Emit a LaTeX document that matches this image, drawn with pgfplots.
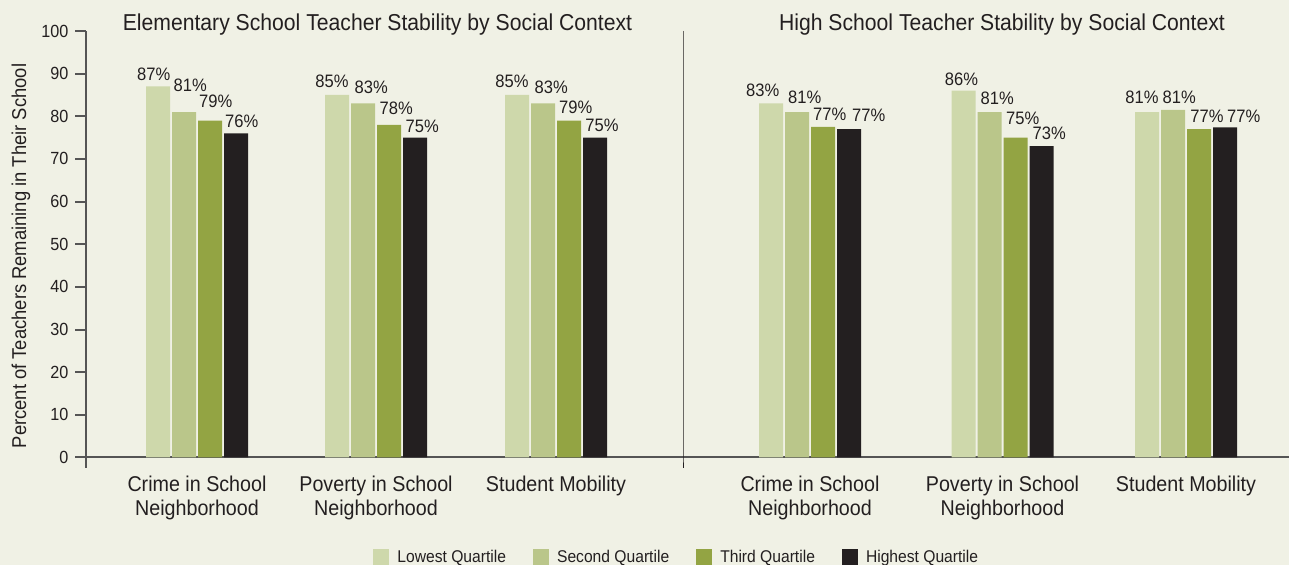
\documentclass[border=0pt]{standalone}
\usepackage{pgfplots}
\usepackage{pgfplotstable}
\pgfplotsset{compat=1.18}
\usepackage{fontspec}
\setmainfont{Liberation Sans}[FakeStretch=0.92]
\definecolor{bg}{HTML}{F0F1E5}
\definecolor{qa}{HTML}{CED8AB}
\definecolor{qb}{HTML}{BAC68A}
\definecolor{qc}{HTML}{93A443}
\definecolor{qd}{HTML}{231F20}
\definecolor{axgrey}{HTML}{555555}
\definecolor{txt}{HTML}{231F20}

% x = pixel position of group centre, y = value, lab = printed label,
% dx, dy = label offset (pt) from the group centre at bar-top height
\pgfplotstableread{
x y lab dx dy
197 87 87 -30.15 2.85
376 85 85 -30.5 3.85
556 85 85 -30.5 3.85
810 83 83 -32.15 3.5
1002.5 86 86 -29 2.5
1186 81 81 -30.5 4.35
}\tA
\pgfplotstableread{
x y lab dx dy
197 81 81 -11.85 10.35
376 83 83 -10.85 5
556 83 83 -10.85 5
810 81 81 -11.15 4.15
1002.5 81 81 -11.15 3.65
1186 81.5 81 -11.85 3.35
}\tB
\pgfplotstableread{
x y lab dx dy
197 79 79 0.85 6.5
376 78 78 1.65 5
556 79 79 1.35 3.35
810 77.5 77 1.35 3
1002.5 75 75 1.65 6.65
1186 77 77 2 3.35
}\tC
\pgfplotstableread{
x y lab dx dy
197 76 76 13.85 2.85
376 75 75 14.65 2.65
556 75 75 14.5 3
810 77 77 20.85 4
1002.5 73 73 14.85 3.35
1186 77.4 77 20.35 2.5
}\tD

\pgfplotsset{
  mybar/.style={ybar, bar width=24, draw=none, fill=#1,
    legend image code/.code={\fill[#1] (0pt,-4pt) rectangle (8pt,4pt);}},
}

\begin{document}
\begin{tikzpicture}
\fill[bg] (-43pt,-53.75pt) rectangle (601.5pt,228.75pt);
\begin{axis}[
  at={(0pt,0pt)}, anchor=south west,
  scale only axis, width=601.5pt, height=213.25pt,
  xmin=86, xmax=1289, ymin=0, ymax=100,
  clip=false,
  axis x line*=bottom, axis y line*=left,
  axis line style={-, axgrey, line width=1pt},
  x axis line style={-}, y axis line style={-},
  tick align=outside, major tick length=5.3pt,
  ytick={0,10,...,100},
  ytick style={axgrey, line width=1pt},
  yticklabel style={font=\fontsize{8.8}{10}\selectfont, text=txt},
  /pgf/number format/assume math mode=true,
  xtick={197,376,556,810,1002.5,1186},
  xticklabels={{Crime in School\\Neighborhood},{Poverty in School\\Neighborhood},{Student Mobility},{Crime in School\\Neighborhood},{Poverty in School\\Neighborhood},{Student Mobility}},
  xtick style={draw=none},
  xticklabel style={align=center, anchor=north, yshift=-0.5pt, font=\fontsize{10.7}{11.7}\selectfont, text=txt},
  point meta=explicit symbolic,
  nodes near coords={\pgfplotspointmeta\%},
  visualization depends on={\thisrow{dx}\as\dx},
  visualization depends on={\thisrow{dy}\as\dy},
  every node near coord/.append style={anchor=base west, inner sep=0pt, xshift=\dx pt, yshift=\dy pt, font=\fontsize{9}{10}\selectfont, text=txt},
  legend columns=4,
  legend style={draw=none, fill=none, at={(0.2386,-0.2145)}, anchor=north west, inner sep=0pt,
    font=\fontsize{8.5}{10}\selectfont, text=txt, nodes={inner sep=0pt},
    /tikz/every odd column/.append style={column sep=4pt},
    /tikz/every even column/.append style={column sep=13.5pt}},
]
\addplot[mybar=qa, bar shift=-39] table[x=x, y=y, meta=lab] {\tA};
\addlegendentry{Lowest Quartile}
\addplot[mybar=qb, bar shift=-13] table[x=x, y=y, meta=lab] {\tB};
\addlegendentry{Second Quartile}
\addplot[mybar=qc, bar shift=13] table[x=x, y=y, meta=lab] {\tC};
\addlegendentry{Third Quartile}
\addplot[mybar=qd, bar shift=39] table[x=x, y=y, meta=lab] {\tD};
\addlegendentry{Highest Quartile}
\draw[axgrey, line width=1pt] (axis cs:86,0) -- ++(0pt,-5.5pt);
\draw[txt, line width=0.5pt] (axis cs:683,100) -- (axis cs:683,0) -- ++(0pt,-5.5pt);
\node[anchor=base, font=\fontsize{11.5}{13}\selectfont, text=txt] at (axis cs:377.5,100) {Elementary School Teacher Stability by Social Context};
\node[anchor=base, font=\fontsize{11.5}{13}\selectfont, text=txt] at (axis cs:1002,100) {High School Teacher Stability by Social Context};
\end{axis}
\node[rotate=90, font=\fontsize{10}{12}\selectfont, text=txt] at (-32.5pt,100.75pt) {Percent of Teachers Remaining in Their School};
\pgfresetboundingbox
\useasboundingbox (-43pt,-53.75pt) rectangle (601.5pt,228.75pt);
\end{tikzpicture}
\end{document}
